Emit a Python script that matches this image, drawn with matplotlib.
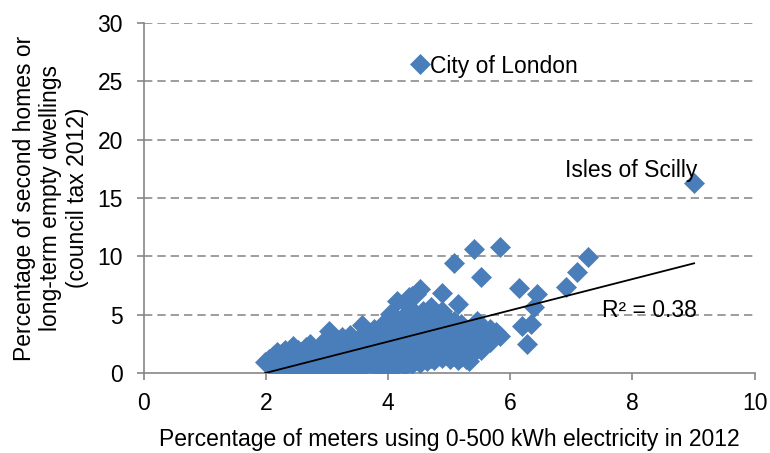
import matplotlib
matplotlib.use("Agg")
import matplotlib.pyplot as plt
import numpy as np

plt.rcParams['font.family'] = ['Liberation Sans', 'DejaVu Sans']

# Columns of points: x value -> list of y values
cluster = [
    (1.99, [0.92]),
    (2.05, [0.8, 1.2]),
    (2.12, [0.6, 1.0, 1.5]),
    (2.18, [0.9, 1.8]),
    (2.25, [0.5, 1.1, 1.6]),
    (2.32, [0.8, 1.3, 2.0]),
    (2.38, [0.6, 1.0, 1.7]),
    (2.45, [0.5, 1.2, 2.3]),
    (2.52, [0.7, 1.5, 2.0]),
    (2.58, [0.4, 1.0, 1.8]),
    (2.65, [0.6, 1.3, 2.2]),
    (2.72, [0.5, 1.1, 1.7, 2.5]),
    (2.78, [0.4, 0.9, 1.5, 2.1]),
    (2.85, [0.6, 1.2, 1.9]),
    (2.92, [0.5, 1.0, 1.6, 2.4]),
    (2.98, [0.7, 1.3, 2.1, 2.9]),
    (3.04, [0.4, 1.0, 1.8, 3.6]),
    (3.10, [0.6, 1.4, 2.4]),
    (3.17, [0.5, 1.1, 1.9, 2.8]),
    (3.24, [0.3, 0.8, 1.5, 2.3, 3.1]),
    (3.30, [0.6, 1.2, 2.0]),
    (3.37, [0.4, 1.0, 1.7, 2.6, 3.3]),
    (3.44, [0.7, 1.4, 2.2]),
    (3.50, [0.5, 1.1, 1.9, 2.8]),
    (3.57, [0.8, 1.5, 2.4, 4.1]),
    (3.63, [0.6, 1.2, 2.0, 3.2]),
    (3.70, [0.9, 1.7, 2.6]),
    (3.77, [0.6, 1.3, 2.2, 3.8]),
    (3.83, [0.8, 1.6, 2.9]),
    (3.90, [0.5, 1.2, 2.0, 3.4]),
    (3.96, [0.3, 0.9, 1.7, 2.6, 4.5]),
    (4.03, [0.6, 1.4, 2.3, 3.1, 5.1]),
    (4.10, [0.4, 1.1, 1.9, 2.8, 3.8]),
    (4.15, [0.7, 1.5, 2.5, 3.4, 4.6, 6.2]),
    (4.22, [0.9, 1.8, 2.9, 4.1]),
    (4.28, [0.6, 1.3, 2.2, 3.3, 5.0]),
    (4.34, [1.0, 1.9, 2.7, 3.8, 5.7, 6.5]),
    (4.40, [0.8, 1.5, 2.4, 3.2, 4.4, 6.6]),
    (4.46, [1.1, 2.0, 3.0, 3.9, 5.0, 6.8]),
    (4.52, [0.9, 1.7, 2.6, 3.5, 4.6, 7.2]),
    (4.58, [1.2, 2.2, 3.1, 4.1, 5.3]),
    (4.64, [1.0, 1.8, 2.8, 3.7, 4.8]),
    (4.70, [1.3, 2.4, 3.3, 4.4, 5.7]),
    (4.76, [1.1, 2.0, 2.9, 3.9, 5.0]),
    (4.82, [1.5, 2.5, 3.5, 4.6]),
    (4.89, [1.3, 2.2, 3.1, 4.2, 5.3, 6.9]),
    (4.95, [1.6, 2.7, 3.7, 4.8]),
    (5.01, [1.2, 2.1, 3.0, 4.0]),
    (5.08, [1.5, 2.5, 3.4, 4.5, 9.4]),
    (5.14, [1.1, 2.0, 2.9, 3.8, 5.9]),
    (5.20, [1.4, 2.4, 3.3, 4.2]),
    (5.27, [1.2, 2.1, 3.0, 3.8]),
    (5.33, [1.0, 1.5, 2.6, 3.5]),
    (5.40, [1.8, 2.9, 4.0, 10.63]),
    (5.46, [2.3, 3.3, 4.5]),
    (5.53, [2.0, 2.9, 8.2]),
    (5.59, [2.5, 3.6]),
    (5.67, [2.7, 3.8]),
    (5.76, [3.5]),
    (5.84, [3.2, 10.8]),
]
outlier_x = [6.14, 6.44, 6.39, 6.34, 6.20, 6.28, 6.92, 7.10, 7.27, 4.52, 9.01]
outlier_y = [7.25, 6.80, 5.70, 4.20, 4.00, 2.45, 7.40, 8.68, 9.97, 26.5, 16.26]

# Linear trend line coefficients
trend_slope = 1.34
trend_intercept = -2.67
r_squared = 0.38

xs = [x for x, ys in cluster for _ in ys] + outlier_x
ys = [y for _, yl in cluster for y in yl] + outlier_y

FS = 16.5
fig = plt.figure(figsize=(7.7, 4.53), dpi=100)
ax = fig.add_axes([0.1865, 0.1766, 0.7935, 0.7726])

blue = '#4A7EBB'
ax.plot(xs, ys, linestyle='none', marker='D', markersize=10,
        markerfacecolor=blue, markeredgecolor=blue, markeredgewidth=0.5, zorder=3)

tx = np.array([min(xs), max(xs)])
ax.plot(tx, trend_slope * tx + trend_intercept, color='black', linewidth=1.3, zorder=4)

ax.set_xlim(0, 10)
ax.set_ylim(0, 30)
ax.set_xticks([0, 2, 4, 6, 8, 10])
ax.set_yticks([0, 5, 10, 15, 20, 25, 30])

for y in [5, 10, 15, 20, 25, 30]:
    ax.axhline(y, color='#8C8C8C', linewidth=1.2, dashes=(5, 3), zorder=1)

for s in ['top', 'right']:
    ax.spines[s].set_visible(False)
for s in ['left', 'bottom']:
    ax.spines[s].set_color('#868686')
    ax.spines[s].set_linewidth(1.2)
ax.tick_params(axis='both', direction='out', length=5, color='#868686',
               width=1.2, labelsize=FS, labelcolor='black')
ax.tick_params(axis='y', pad=10)
ax.tick_params(axis='x', pad=9)

ax.set_xlabel('Percentage of meters using 0-500 kWh electricity in 2012', fontsize=FS, labelpad=9)
ax.set_ylabel('Percentage of second homes or\nlong-term empty dwellings\n(council tax 2012)',
              fontsize=FS, labelpad=6, linespacing=1.2)

ax.text(4.68, 26.3, 'City of London', fontsize=FS, va='center', ha='left')
ax.text(9.06, 17.4, 'Isles of Scilly', fontsize=FS, va='center', ha='right')
ax.text(7.51, 5.4, 'R² = %.2f' % r_squared, fontsize=FS, va='center', ha='left')

fig.savefig('out.png', dpi=100)
